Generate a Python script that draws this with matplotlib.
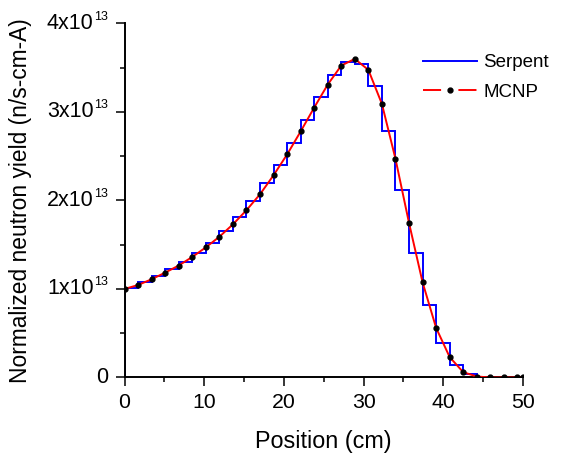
import numpy as np
import matplotlib.pyplot as plt
from matplotlib.lines import Line2D
from matplotlib.transforms import offset_copy

plt.rcParams["font.family"] = ["Liberation Sans", "DejaVu Sans"]

SCALE = 1e13

# MCNP tally points (position in cm, yield in units of 1e13 n/s-cm-A)
mcnp_pos = [0.0, 1.7, 3.4, 5.1, 6.8, 8.5, 10.2, 11.9, 13.6, 15.3,
            17.0, 18.7, 20.4, 22.1, 23.8, 25.5, 27.2, 28.9, 30.6, 32.3,
            34.0, 35.7, 37.4, 39.1, 40.8, 42.5, 44.2, 45.9, 47.6, 49.3, 50.0]
mcnp_yield = [1.00, 1.045, 1.11, 1.185, 1.265, 1.362, 1.47, 1.59, 1.73, 1.89,
              2.07, 2.285, 2.52, 2.78, 3.05, 3.31, 3.525, 3.60, 3.475, 3.09,
              2.47, 1.745, 1.075, 0.56, 0.23, 0.06, 0.011, 0.0, 0.0, 0.0, 0.0]

# Serpent histogram (bin edges in cm, bin values in units of 1e13)
serpent_edges = mcnp_pos
serpent_yield = [1.015, 1.075, 1.145, 1.225, 1.305, 1.41, 1.525, 1.66, 1.81, 1.99,
                 2.195, 2.405, 2.65, 2.915, 3.175, 3.42, 3.56, 3.545, 3.29, 2.785,
                 2.115, 1.41, 0.815, 0.39, 0.144, 0.034, 0.004, 0.0, 0.0, 0.0]

xticks = [0, 10, 20, 30, 40, 50]
yticks = [0, 1, 2, 3, 4]

fig = plt.figure(figsize=(5.68, 4.57), dpi=100)
ax = fig.add_axes([0.2192, 0.174, 0.7016, 0.7746])

ax.stairs(np.array(serpent_yield) * SCALE, serpent_edges, color="#0000ff", linewidth=1.4, zorder=2)
ax.plot(mcnp_pos, np.array(mcnp_yield) * SCALE, color="#ff0000", linewidth=1.4, zorder=3)
ax.plot(mcnp_pos, np.array(mcnp_yield) * SCALE, linestyle="none", marker="o",
        markersize=3.5, color="black", zorder=4)

ax.set_xlim(0, 50)
ax.set_ylim(0, 4 * SCALE)
ax.set_xticks(xticks)
ax.set_xticks([5, 15, 25, 35, 45], minor=True)
ax.set_yticks([v * SCALE for v in yticks])
ax.set_yticks([v * SCALE for v in [0.5, 1.5, 2.5, 3.5]], minor=True)

for s in ["top", "right"]:
    ax.spines[s].set_visible(False)
for s in ["left", "bottom"]:
    ax.spines[s].set_linewidth(1.4)
ax.tick_params(which="major", direction="out", length=6.8, width=1.1, labelsize=15.3, pad=4.5)
ax.tick_params(which="minor", direction="out", length=3.8, width=1.1)
ax.tick_params(axis="y", labelleft=False)

# y tick labels in "Nx10^13" form, with a small superscript
ytrans = ax.get_yaxis_transform()
main_tr = offset_copy(ytrans, fig=fig, x=-22.3, y=0, units="points")
sup_tr = offset_copy(ytrans, fig=fig, x=-22.0, y=4.8, units="points")
zero_tr = offset_copy(ytrans, fig=fig, x=-11.7, y=0, units="points")
for v in yticks:
    if v == 0:
        ax.text(0, 0, "0", transform=zero_tr, ha="right", va="center", fontsize=15.5)
    else:
        ax.text(0, v * SCALE, f"{v}x10", transform=main_tr, ha="right", va="center", fontsize=15.5)
        ax.text(0, v * SCALE, "13", transform=sup_tr, ha="left", va="center", fontsize=9)

ax.set_xlabel("Position (cm)", fontsize=16.8, labelpad=13)
ax.set_ylabel("Normalized neutron yield (n/s-cm-A)", fontsize=16.4)
ax.yaxis.set_label_coords(-0.232, 0.5)

handles = [
    Line2D([], [], color="#0000ff", linewidth=1.4),
    Line2D([], [], color="#ff0000", linewidth=1.4, dashes=(9.3, 8.9),
           marker="o", markersize=3.5, markerfacecolor="black", markeredgecolor="black"),
]
ax.legend(handles, ["Serpent", "MCNP"], loc="upper left", bbox_to_anchor=(0.73, 0.935),
          frameon=False, fontsize=13.5, handlelength=2.9, handletextpad=0.32,
          labelspacing=0.66, borderaxespad=0)

fig.savefig("out.png", dpi=100)
